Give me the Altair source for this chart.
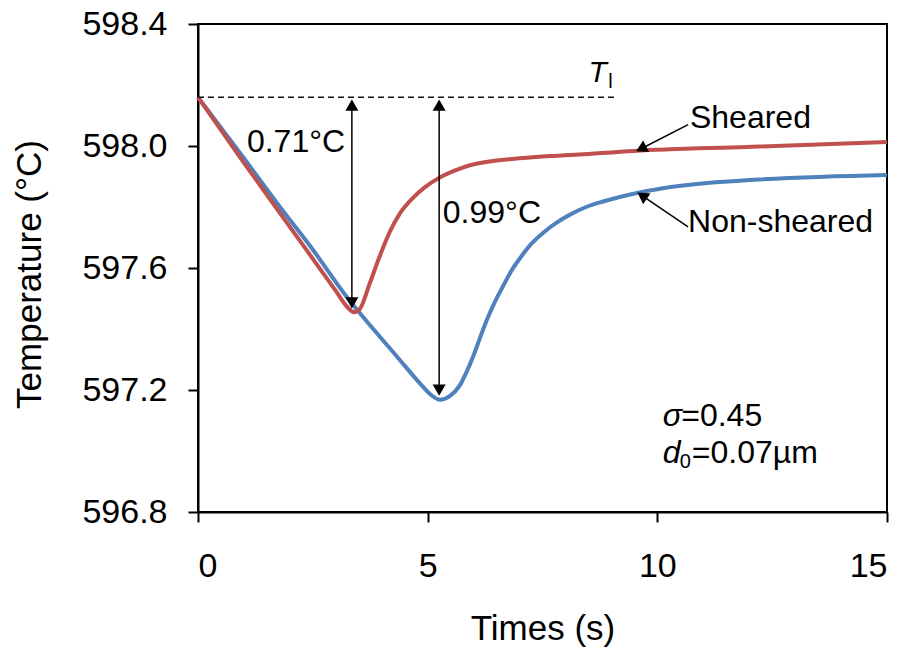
import altair as alt
import pandas as pd
import math

# ---------------- data ----------------
sheared_t = [0, 1.0, 2.0, 3.0, 3.25, 3.40, 3.52, 3.74, 3.96, 4.18, 4.40, 4.68, 4.95, 5.22, 5.6, 5.92, 7.0, 8.3, 9.5, 11.95, 15]
sheared_T = [598.16, 597.945, 597.735, 597.525, 597.472, 597.455, 597.465, 597.55, 597.64, 597.72, 597.78, 597.83, 597.866, 597.893, 597.92, 597.937, 597.96, 597.972, 597.984, 597.997, 598.013]

non_t = [0, 1.0, 1.785, 2.5, 3.24, 3.59, 4.33, 4.83, 5.05, 5.27, 5.48, 5.70, 5.85, 5.99, 6.15, 6.29, 6.45, 6.64, 6.82, 7.01, 7.25, 7.51, 7.8, 8.1, 8.45, 8.82, 9.56, 10.06, 11.2, 15]
non_T = [598.16, 597.96, 597.80, 597.66, 597.505, 597.44, 597.31, 597.222, 597.187, 597.168, 597.18, 597.215, 597.26, 597.31, 597.375, 597.43, 597.485, 597.54, 597.59, 597.632, 597.678, 597.715, 597.748, 597.775, 597.80, 597.818, 597.846, 597.86, 597.88, 597.905]

x_ticks = [0, 5, 10, 15]
y_ticks = [596.8, 597.2, 597.6, 598.0, 598.4]

T_l = 598.16
drop_sheared = (3.35, 597.456)      # time, min temperature
drop_non = (5.25, 597.17)

# ---------------- geometry ----------------
W, H = 689, 488
XMIN, XMAX = 0, 15
YMIN, YMAX = 596.8, 598.4
FONT = "Liberation Sans"

def dx(px):
    return px * (XMAX - XMIN) / W

def dy(px):
    return px * (YMAX - YMIN) / H

xs = alt.Scale(domain=[XMIN, XMAX], nice=False, zero=False)
ys = alt.Scale(domain=[YMIN, YMAX], nice=False, zero=False)

curves = pd.concat([
    pd.DataFrame({"t": non_t, "T": non_T, "s": "Non-sheared"}),
    pd.DataFrame({"t": sheared_t, "T": sheared_T, "s": "Sheared"}),
])

base_x = alt.X("t:Q", scale=xs, axis=alt.Axis(
    values=x_ticks, title="Times (s)", titleY=127, titleBaseline="alphabetic",
    labelPadding=27, format="d"))
base_y = alt.Y("T:Q", scale=ys, axis=alt.Axis(
    values=y_ticks, title="Temperature (°C)", format=".1f", labelPadding=21,
    titleX=-158, titleY=250, titleAngle=270, titleAlign="center",
    titleBaseline="alphabetic"))

blue_line = alt.Chart(curves[curves.s == "Non-sheared"]).mark_line(
    color="#4F81BD", strokeWidth=4, interpolate="monotone").encode(x=base_x, y=base_y)
red_line = alt.Chart(curves[curves.s == "Sheared"]).mark_line(
    color="#C0504D", strokeWidth=4, interpolate="monotone").encode(x="t:Q", y="T:Q")

# dashed liquidus line
dash = alt.Chart(pd.DataFrame({"t": [0], "t2": [9.1], "T": [T_l]})).mark_rule(
    color="#111111", strokeWidth=1.5, strokeDash=[6, 4]).encode(
    x=alt.X("t:Q", scale=xs), x2="t2:Q", y=alt.Y("T:Q", scale=ys))

HEAD_OFF = 6  # px from tip to centre of triangle

seg_rows = []
head_rows = []

def add_arrow(x_tip_a, y_tip_a, x_tip_b, y_tip_b, head_a, head_b):
    sx = (x_tip_b - x_tip_a) * W / (XMAX - XMIN)
    sy = -(y_tip_b - y_tip_a) * H / (YMAX - YMIN)
    L = math.hypot(sx, sy)
    ux, uy = sx / L, sy / L
    ax, ay = x_tip_a, y_tip_a
    bx, by = x_tip_b, y_tip_b
    if head_a:
        cx = x_tip_a + dx(HEAD_OFF * ux)
        cy = y_tip_a - dy(HEAD_OFF * uy)
        ang = (math.degrees(math.atan2(-uy, -ux)) - 270) % 360
        head_rows.append({"t": cx, "T": cy, "a": ang})
        ax, ay = cx, cy
    if head_b:
        cx = x_tip_b - dx(HEAD_OFF * ux)
        cy = y_tip_b + dy(HEAD_OFF * uy)
        ang = (math.degrees(math.atan2(uy, ux)) - 270) % 360
        head_rows.append({"t": cx, "T": cy, "a": ang})
        bx, by = cx, cy
    seg_rows.append({"t": ax, "T": ay, "t2": bx, "T2": by})

gap = dy(2)
add_arrow(drop_sheared[0], T_l - gap, drop_sheared[0], drop_sheared[1] + dy(3), True, True)
add_arrow(drop_non[0], T_l - gap, drop_non[0], drop_non[1] + dy(3), True, True)
add_arrow(10.67, 598.07, 9.53, 597.982, False, True)     # Sheared pointer
add_arrow(10.67, 597.735, 9.56, 597.848, False, True)    # Non-sheared pointer

segs = alt.Chart(pd.DataFrame(seg_rows)).mark_rule(color="black", strokeWidth=1.5).encode(
    x=alt.X("t:Q", scale=xs), y=alt.Y("T:Q", scale=ys), x2="t2:Q", y2="T2:Q")
heads = alt.Chart(pd.DataFrame(head_rows)).mark_point(
    shape="triangle-up", filled=True, color="black", opacity=1, size=170).encode(
    x=alt.X("t:Q", scale=xs), y=alt.Y("T:Q", scale=ys), angle=alt.Angle("a:Q", scale=None))

def label(text, t, T, size=32, style="normal"):
    return alt.Chart(pd.DataFrame({"t": [t], "T": [T], "txt": [text]})).mark_text(
        align="left", baseline="alphabetic", font=FONT, fontSize=size,
        fontStyle=style, color="black").encode(
        x=alt.X("t:Q", scale=xs), y=alt.Y("T:Q", scale=ys), text="txt:N")

texts = [
    label("0.71°C", 1.065, 597.98),
    label("0.99°C", 5.33, 597.747),
    label("Sheared", 10.71, 598.059),
    label("Non-sheared", 10.67, 597.718),
    label("T", 8.5, 598.21, 30, "italic"),
    label("l", 8.93, 598.19, 20),
    label("σ", 10.12, 597.082, 32, "italic"),
    label("=0.45", 10.52, 597.082),
    label("d", 10.12, 596.96, 32, "italic"),
    label("0", 10.49, 596.945, 20),
    label("=0.07µm", 10.75, 596.96),
]

chart = alt.layer(blue_line, red_line, dash, segs, heads, *texts).properties(
    width=W, height=H,
    autosize=alt.AutoSizeParams(type="none"),
    padding={"left": 198, "top": 24, "right": 28, "bottom": 139},
    background="white",
).configure_view(stroke="black", strokeWidth=2).configure_axis(
    grid=False, domainColor="black", domainWidth=2, tickColor="black", tickWidth=2,
    tickSize=10, labelFont=FONT, labelFontSize=34, labelColor="black",
    titleFont=FONT, titleFontSize=35, titleFontWeight="normal", titleColor="black",
)

chart.save("out.html", embed_options={"renderer": "svg", "actions": False})
